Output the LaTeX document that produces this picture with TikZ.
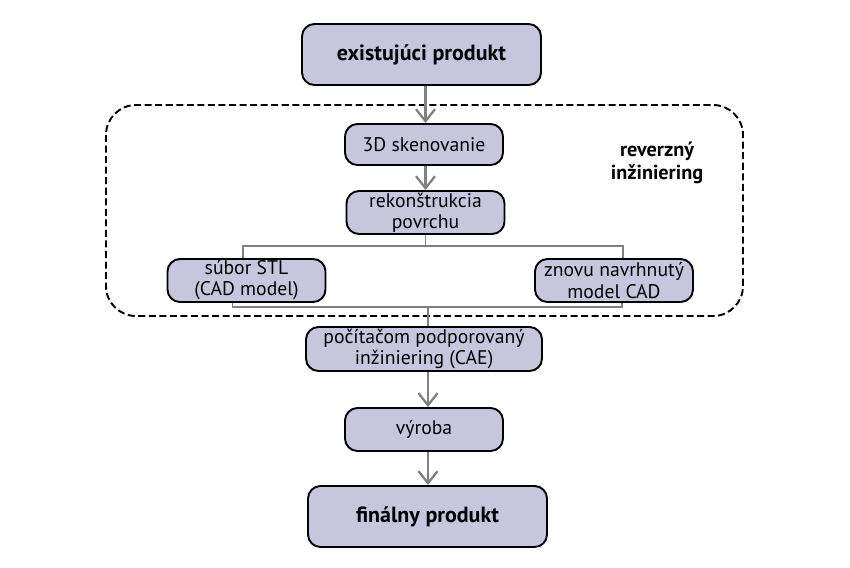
\documentclass[tikz,border=0pt]{standalone}
\usepackage{fontspec}
\setmainfont{PT Sans}
\usepackage{tikz}
\usetikzlibrary{arrows.meta,shapes,calc,backgrounds}
\usetikzlibrary{positioning}
\definecolor{fialova}{RGB}{200,198,222}
\tikzset{
    %Define standard arrow tip
    >={Straight Barb[length=2.4mm,width=3.8mm,line width=1.3pt]},
    % Define box styles
    blok/.style={
           draw,
           line width=1.1pt,
           rounded corners=2.5mm,
           fill=fialova,
           align=center,
           inner sep=0pt,
           font=\fontsize{11.2}{12}\selectfont,
           },
    velky/.style={
           blok,
           minimum width=4.78cm,
           minimum height=1.22cm,
           font=\bfseries\fontsize{12.5}{13}\selectfont,
           },
    maly/.style={
           blok,
           minimum width=3.16cm,
           minimum height=0.86cm,
           },
    % Define arrow style
    pil/.style={
           ->,
           gray,
           line width=1.7pt,
           },
    ciara/.style={
           gray,
           line width=0.9pt,
}
}
\begin{document}
\begin{tikzpicture}
  	\useasboundingbox (0,0) rectangle (17,-11.34);
  	\draw[dashed, line width=1.1pt, dash pattern=on 4pt off 2pt, rounded corners=0.6cm] (2.12,-2.10) rectangle (14.86,-6.32);
  	\node (a) at (8.43,-1.09) [velky] {existujúci produkt};
  	\node (b) at (8.48,-2.89) [maly, minimum height=0.82cm] {3D skenovanie};
  	\node (c) at (8.51,-4.25) [maly] {rekonštrukcia\\povrchu};
  	\node (d) at (4.93,-5.61) [maly] {súbor STL\\(CAD model)};
  	\node (e) at (12.28,-5.61) [maly] {znovu navrhnutý\\model CAD};
  	\node (f) at (8.48,-6.98) [blok, minimum width=4.72cm, minimum height=0.88cm] {počítačom podporovaný\\inžiniering (CAE)};
  	\node (g) at (8.48,-8.59) [maly] {výroba};
  	\node (h) at (8.55,-10.33) [velky] {finálny produkt};
  	\node (r) at (13.14,-3.26) [align=center, font=\bfseries\fontsize{11.5}{13}\selectfont] {reverzný\\inžiniering};
  	\coordinate (o) at (8.56,-6.14);
  	\draw [pil] (a.south -| c) -- (b.north -| c);
  	\draw [pil] (b.south -| c) -- (c.north);
  	\draw [ciara] (c.south) -- ++(0,-0.22) -| ([xshift=-0.07cm]d.north);
  	\draw [ciara] (c.south) -- ++(0,-0.22) -| ([xshift=0.18cm]e.north);
  	\draw [ciara] ([xshift=-0.28cm]d.south) |- (o) -| ([xshift=0.16cm]e.south);
  	\draw [ciara] (o) -- (o |- f.north);
  	\draw [pil] (f.south -| o) -- (g.north -| o);
  	\draw [pil] (g.south -| o) -- (h.north -| o);
\end{tikzpicture}
\end{document}
